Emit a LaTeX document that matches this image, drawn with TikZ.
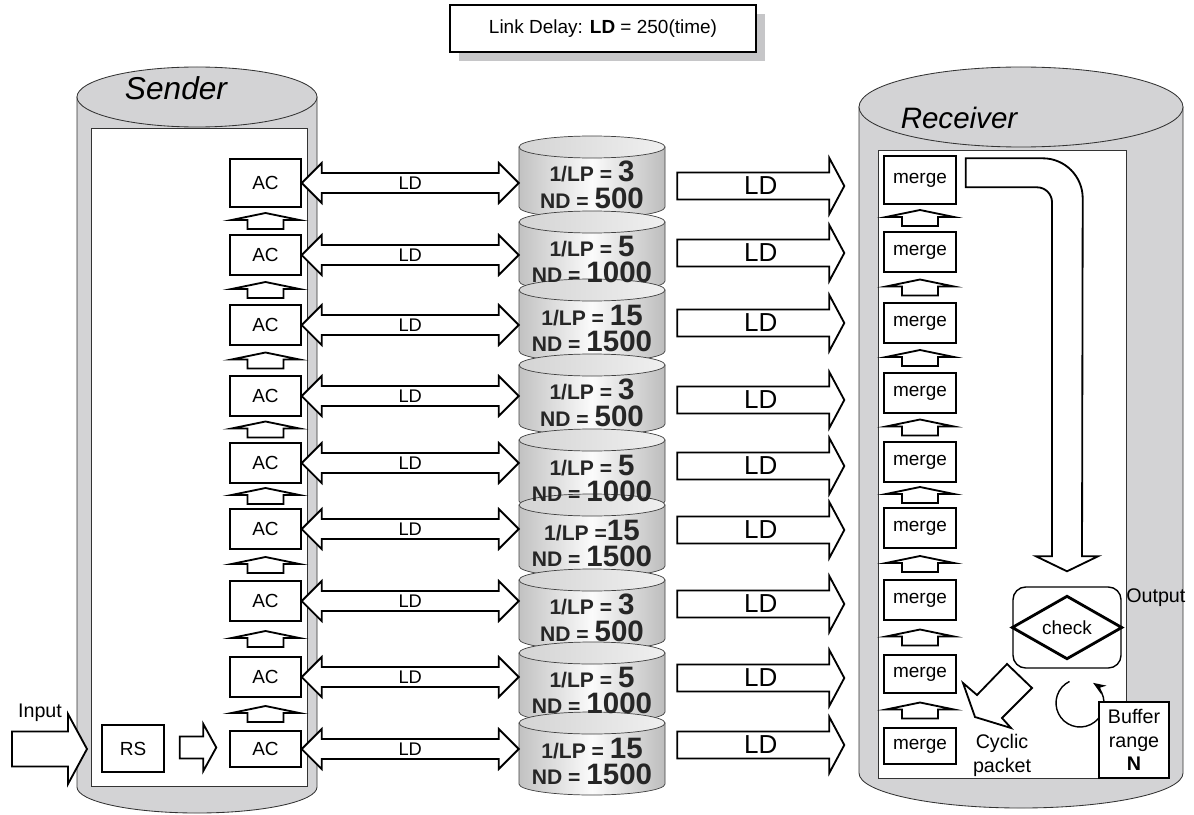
\documentclass[tikz,border=0pt]{standalone}
\usepackage{fontspec}
\setmainfont{Liberation Sans}
\usetikzlibrary{arrows.meta,positioning,calc,shadows}

\definecolor{wallgray}{RGB}{211,211,213}
\definecolor{shadowgray}{RGB}{198,198,200}
\newcommand{\px}{0.025cm}
\newcommand{\bignum}[1]{{\fontsize{21}{19}\selectfont #1}}

% fat arrow to the right: tail, tip, half shaft, half head, head length
\newcommand{\fatarrow}[5]{%
  \coordinate (fL) at (#1); \coordinate (fR) at (#2);
  \draw[blockarr] ($(fL)+(0,-#3)$) -- ($(fR)+(-#5,-#3)$) -- ($(fR)+(-#5,-#4)$) -- (fR)
    -- ($(fR)+(-#5,#4)$) -- ($(fR)+(-#5,#3)$) -- ($(fL)+(0,#3)$) -- cycle;}
% fat arrow with two heads
\newcommand{\dblarrow}[5]{%
  \coordinate (dL) at (#1); \coordinate (dR) at (#2);
  \draw[blockarr] (dL) -- ($(dL)+(#5,-#4)$) -- ($(dL)+(#5,-#3)$) -- ($(dR)+(-#5,-#3)$)
    -- ($(dR)+(-#5,-#4)$) -- (dR) -- ($(dR)+(-#5,#4)$) -- ($(dR)+(-#5,#3)$)
    -- ($(dL)+(#5,#3)$) -- ($(dL)+(#5,#4)$) -- cycle;}
% flat up arrow between two stacked boxes
\newcommand{\uparr}[2]{%
  \coordinate (uA) at ($(#1.north)!0.5!(#2.south)+(0,-8)$);
  \draw[blockarr] (uA) -- ++(34,7) -- ++(-16,0) -- ++(0,9) -- ++(-36,0) -- ++(0,-9) -- ++(-16,0) -- cycle;}

\tikzset{
  plainbox/.style={draw, line width=1pt, fill=white, inner sep=0pt, font=\fontsize{13.5}{15}\selectfont},
  acnode/.style={plainbox, minimum width=71*\px},
  mergenode/.style={plainbox, minimum width=72*\px},
  blockarr/.style={draw, fill=white, line width=1.3pt, line join=miter},
  wall/.style={fill=wallgray, draw=black!80, line width=0.6pt},
  inner/.style={fill=white, draw=black!80, line width=0.6pt},
  cylbody/.style={left color=gray!48, right color=gray!52, middle color=gray!3, draw=black!75, line width=0.5pt},
  cyltop/.style={left color=gray!34, right color=gray!12, draw=black!75, line width=0.5pt},
  cyltext/.style={minimum width=146*\px, inner sep=0pt, align=center, text=black!85, font=\fontsize{15}{19}\selectfont\bfseries},
  ldsmall/.style={inner sep=0pt, font=\fontsize{13}{15}\selectfont},
  ldbig/.style={inner sep=0pt, font=\fontsize{18.5}{20}\selectfont},
  lbl/.style={inner sep=0pt, align=center, font=\fontsize{14}{17}\selectfont},
  cyltitle/.style={inner sep=0pt, font=\fontsize{22.5}{24}\selectfont\itshape}
}

\begin{document}
\begin{tikzpicture}[x=0.025cm, y=-0.025cm, >=Stealth]
  \useasboundingbox (0,0) rectangle (1194,814);

  % link delay legend
  \node[plainbox, line width=0.8pt, minimum width=306*\px, minimum height=47*\px,
    drop shadow={shadow xshift=6.4pt, shadow yshift=-6.4pt, fill=shadowgray, opacity=1}]
    (linkdelay) at (603,28.5) {Link Delay: \textbf{LD} = 250(time)};

  % sender
  \draw[wall] (77,97) -- (77,787) arc[start angle=180, end angle=0, x radius=120, y radius=26] -- (317,97) -- cycle;
  \draw[wall] (197,97) ellipse[x radius=120, y radius=30];
  \draw[inner] (91,128) rectangle (307,786);
  \node[cyltitle] (sender) at (176,88) {Sender};

  % receiver
  \draw[wall] (859,107) -- (859,773) arc[start angle=180, end angle=0, x radius=162, y radius=35] -- (1183,107) -- cycle;
  \draw[wall] (1021,107) ellipse[x radius=162, y radius=40];
  \draw[inner] (878,150) rectangle (1126,778);
  \node[cyltitle, font=\fontsize{21}{24}\selectfont\itshape] (receiver) at (959,118) {Receiver};

  % stack of links
  \foreach \t/\n in {172/198,247/272,315/342,390/415,465/492,530/557,605/630,678/703,748/775}{
    \pgfmathsetmacro{\ty}{\t-25}
    \pgfmathsetmacro{\by}{\n+9}
    \shadedraw[cylbody] (519,\ty) -- (519,\by) arc[start angle=180, end angle=0, x radius=73, y radius=11] -- (665,\ty) -- cycle;
    \shadedraw[cyltop] (592,\ty) ellipse[x radius=73, y radius=11];
  }
  \node[cyltext] (cyl1) at (592,185) {1/LP = \bignum{3}\\ND = \bignum{500}};
  \node[cyltext] (cyl2) at (592,259.5) {1/LP = \bignum{5}\\ND = \bignum{1000}};
  \node[cyltext] (cyl3) at (592,328.5) {1/LP = \bignum{15}\\ND = \bignum{1500}};
  \node[cyltext] (cyl4) at (592,402.5) {1/LP = \bignum{3}\\ND = \bignum{500}};
  \node[cyltext] (cyl5) at (592,478.5) {1/LP = \bignum{5}\\ND = \bignum{1000}};
  \node[cyltext] (cyl6) at (592,543.5) {1/LP =\bignum{15}\\ND = \bignum{1500}};
  \node[cyltext] (cyl7) at (592,617.5) {1/LP = \bignum{3}\\ND = \bignum{500}};
  \node[cyltext] (cyl8) at (592,690.5) {1/LP = \bignum{5}\\ND = \bignum{1000}};
  \node[cyltext] (cyl9) at (592,761.5) {1/LP = \bignum{15}\\ND = \bignum{1500}};

  % AC and merge columns
  \foreach \i/\y/\h in {1/183/48,2/255/40,3/325/40,4/396/40,5/463/40,6/529/40,7/601/40,8/677/40,9/749/36}
    \node[acnode, minimum height=\h*\px] (ac\i) at (265.5,\y) {AC};
  \foreach \i/\y/\h in {1/180/48,2/252/40,3/323/40,4/393/40,5/462/40,6/528/40,7/600/40,8/674/38,9/746/36}
    \node[mergenode, minimum height=\h*\px] (mg\i) at (920,\y) {merge};
  \node[plainbox, minimum width=62*\px, minimum height=47*\px] (rs) at (133,748.5) {RS};

  \foreach \i [evaluate=\i as \j using int(\i+1)] in {1,...,8}{
    \uparr{ac\j}{ac\i}
    \uparr{mg\j}{mg\i}
  }

  % links
  \foreach \i/\dy in {1/6,2/1,3/0,4/7,5/4,6/2,7/4,8/4,9/-1}{
    \dblarrow{ac\i.east}{ac\i.east -| cyl\i.west}{10}{20}{20}
    \node[ldsmall] (ldl\i) at ($(dL)!0.5!(dR)$) {LD};
    \fatarrow{$(cyl\i.east |- mg\i.west)+(12,\dy)$}{$(mg\i.west)+(-39,\dy)$}{13.5}{28}{15}
    \node[ldbig] (ldr\i) at ($(fL)!0.5!(fR)$) {LD};
  }

  % input side
  \coordinate (inS) at (12,749);
  \coordinate (inE) at (87,749);
  \fatarrow{inS}{inE}{17.5}{35}{19}
  \node[lbl] (inputlbl) at (40,713) {Input};
  \fatarrow{$(rs.east)+(15,-1)$}{$(rs.east -| ac9.west)+(-13,-1)$}{11}{23.5}{13}

  % check and output
  \node[plainbox, rounded corners=9pt, minimum width=108*\px, minimum height=81*\px] (check) at (1067,627.5) {check};
  \draw[line width=2pt, line join=miter] (check.west) -- ($(check.north)+(0,10)$) -- (check.east) -- ($(check.south)+(0,-10)$) -- cycle;
  \node[lbl, anchor=west] (outlbl) at (1126,598) {Output};
  \coordinate (ustart) at ($(mg1.north east)+(9,3)$);
  \draw[blockarr] (ustart) -- ++(77,0) arc[start angle=-90, end angle=0, radius=40]
    -- ($(check.north)+(15,-30)$) -- ++(16,0) -- ($(check.north)+(0,-15)$) -- ($(check.north)+(-31,-30)$)
    -- ++(16,0) -- ++(0,-354) arc[start angle=0, end angle=-90, radius=15] -- ($(ustart)+(0,29)$) -- cycle;

  % cyclic packet
  \draw[blockarr] (963,683) -- (977,695) -- (1007,664) -- (1032,688) -- (1002,718) -- (1011,728) -- (975,717) -- cycle;
  \node[lbl] (cycliclbl) at (1002,755) {Cyclic\\packet};

  % buffer range
  \draw[line width=1pt, -{Stealth[length=9pt,width=7pt]}] (1080,703) ++(244:24) arc[start angle=244, end angle=-57, radius=24];
  \node[plainbox, align=center, font=\fontsize{14}{16.5}\selectfont, minimum width=70*\px, minimum height=76*\px]
    (buf) at (1134,740) {Buffer\\range\\\textbf{N}};
\end{tikzpicture}
\end{document}
